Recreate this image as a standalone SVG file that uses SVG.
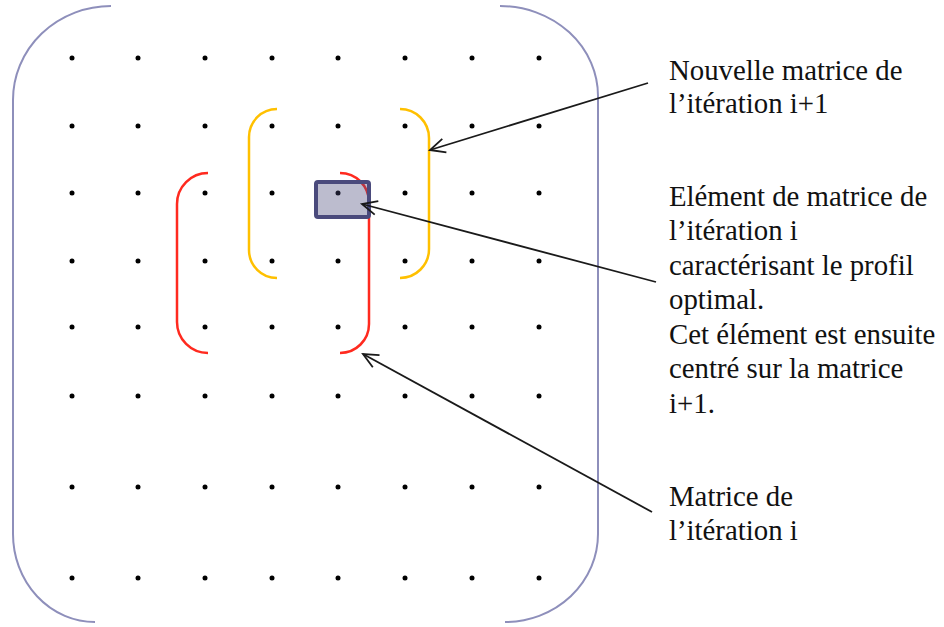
<svg xmlns="http://www.w3.org/2000/svg" width="944" height="627" viewBox="0 0 944 627">
<style>
.dot{fill:#000}
.blue{fill:none;stroke:#8e8fbb;stroke-width:2}
.yellow{fill:none;stroke:#ffc000;stroke-width:2.5}
.red{fill:none;stroke:#ff2a1f;stroke-width:2.5}
.conn{fill:none;stroke:#1a1a1a;stroke-width:1.8;marker-end:url(#open)}
.lbl{font-family:"Liberation Serif","Times New Roman",serif;font-size:28.8px;fill:#111}
</style>
<defs>
<marker id="open" markerUnits="userSpaceOnUse" markerWidth="24" markerHeight="24" viewBox="-18 -12 24 24" refX="0" refY="0" orient="auto">
<path d="M-15,-7 L0,0 L-15,7" fill="none" stroke="#1a1a1a" stroke-width="1.8"/>
</marker>
<g id="row">
<circle class="dot" cx="72" cy="0" r="2.5"/><circle class="dot" cx="138" cy="0" r="2.5"/><circle class="dot" cx="205" cy="0" r="2.5"/><circle class="dot" cx="272" cy="0" r="2.5"/><circle class="dot" cx="338" cy="0" r="2.5"/><circle class="dot" cx="405" cy="0" r="2.5"/><circle class="dot" cx="472" cy="0" r="2.5"/><circle class="dot" cx="539" cy="0" r="2.5"/>
</g>
</defs>
<rect width="944" height="627" fill="#fff"/>
<g id="outer-matrix">
<path class="blue" d="M111 6 A98 94 0 0 0 13 100 L13 534 A82 88 0 0 0 95 622"/>
<path class="blue" d="M500 6 A98 90 0 0 1 598 96 L598 534 A93 88 0 0 1 505 622"/>
</g>
<g id="grid">
<use href="#row" y="58"/><use href="#row" y="126"/><use href="#row" y="193"/><use href="#row" y="261"/><use href="#row" y="327"/><use href="#row" y="396"/><use href="#row" y="487"/><use href="#row" y="578"/>
</g>
<g id="matrix-i1">
<path class="yellow" d="M277 109 A28 28 0 0 0 249 137 L249 250 A28 28 0 0 0 277 278"/>
<path class="yellow" d="M400 109 A29 29 0 0 1 429 138 L429 249 A29 29 0 0 1 400 278"/>
</g>
<g id="matrix-i">
<path class="red" d="M208 173 A31 31 0 0 0 177 204 L177 322 A31 31 0 0 0 208 353"/>
<path class="red" d="M340 173 A29 29 0 0 1 369 202 L369 324 A29 29 0 0 1 340 353"/>
</g>
<g id="element">
<rect x="316" y="182" width="53" height="35" rx="2" fill="#4a4a7a" fill-opacity="0.37" stroke="#4a4a7c" stroke-width="4"/>
</g>
<g id="connectors">
<line class="conn" x1="648" y1="83" x2="430" y2="150"/>
<line class="conn" x1="656" y1="282" x2="362" y2="204"/>
<line class="conn" x1="652" y1="512" x2="363" y2="354"/>
</g>
<g id="label-i1">
<text class="lbl" x="669" y="80">Nouvelle matrice de</text>
<text class="lbl" x="669" y="113">l’itération i+1</text>
</g>
<g id="label-element">
<text class="lbl" x="669" y="206">Elément de matrice de</text>
<text class="lbl" x="669" y="240">l’itération i</text>
<text class="lbl" x="669" y="275">caractérisant le profil</text>
<text class="lbl" x="669" y="309">optimal.</text>
<text class="lbl" x="669" y="344">Cet élément est ensuite</text>
<text class="lbl" x="669" y="378">centré sur la matrice</text>
<text class="lbl" x="669" y="413">i+1.</text>
</g>
<g id="label-i">
<text class="lbl" x="669" y="506">Matrice de</text>
<text class="lbl" x="669" y="540">l’itération i</text>
</g>
</svg>
